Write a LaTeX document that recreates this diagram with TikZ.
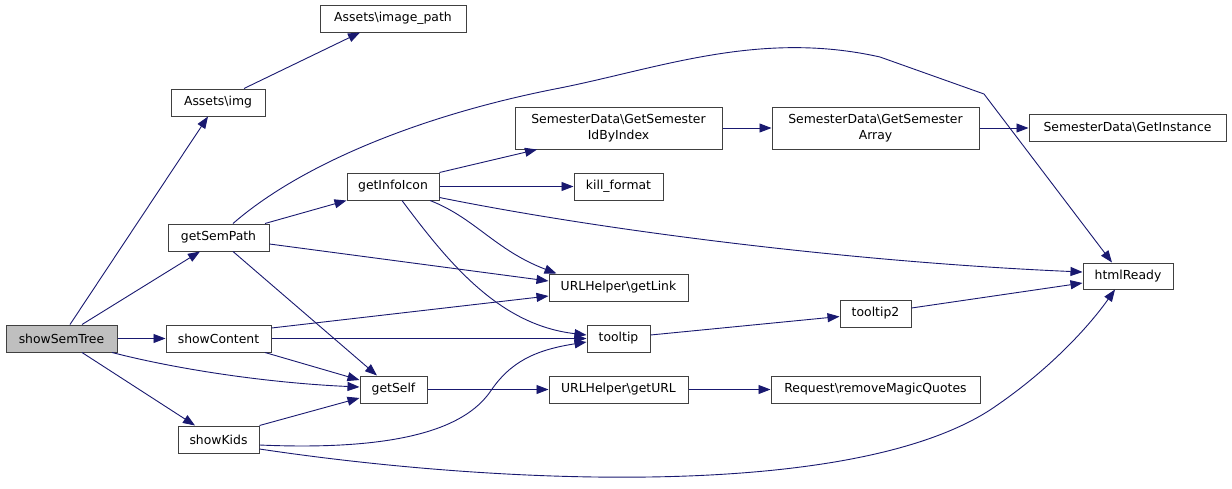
\documentclass[tikz,border=0pt]{standalone}
\usepackage{fontspec}
\setmainfont{DejaVu Sans}
\usetikzlibrary{arrows.meta,calc}
\definecolor{edgeblue}{RGB}{25,25,112}
\definecolor{rootgray}{RGB}{191,191,191}
\definecolor{boxline}{RGB}{64,64,64}
\begin{document}
\begin{tikzpicture}[x=1pt,y=-1pt,
  fn/.style={draw=boxline, line width=1pt, fill=white, inner sep=0pt, align=center,
    minimum height=27pt, font=\fontsize{12.4}{16}\selectfont},
  edge/.style={draw=edgeblue, line width=0.9pt, -{Triangle[length=12pt,width=9pt]}}]
\useasboundingbox[fill=white] (0,0) rectangle (1232,488);

% nodes
\node[fn, minimum width=111pt, fill=rootgray] (semtree) at (61.5,338.5) {showSemTree};
\node[fn, minimum width=94pt]  (img)       at (218,102.5)  {Assets\textbackslash img};
\node[fn, minimum width=146pt] (imgpath)   at (393,18.5)   {Assets\textbackslash image\_path};
\node[fn, minimum width=101pt] (sempath)   at (218.5,237.5) {getSemPath};
\node[fn, minimum width=105pt] (content)   at (218.5,338.5) {showContent};
\node[fn, minimum width=81pt]  (kids)      at (218.5,439.5) {showKids};
\node[fn, minimum width=92pt]  (infoicon)  at (393,186.5)  {getInfoIcon};
\node[fn, minimum width=67pt]  (getself)   at (393.5,389.5) {getSelf};
\node[fn, minimum width=207pt, minimum height=42pt] (idbyindex) at (618.5,128)
  {SemesterData\textbackslash GetSemester\\IdByIndex};
\node[fn, minimum width=207pt, minimum height=42pt] (semarray) at (875.5,128)
  {SemesterData\textbackslash GetSemester\\Array};
\node[fn, minimum width=197pt] (instance)  at (1127.5,127.5) {SemesterData\textbackslash GetInstance};
\node[fn, minimum width=89pt]  (kill)      at (618.5,186.5) {kill\_format};
\node[fn, minimum width=139pt] (getlink)   at (618.5,287.5) {URLHelper\textbackslash getLink};
\node[fn, minimum width=63pt]  (tooltip)   at (618.5,338.5) {tooltip};
\node[fn, minimum width=71pt]  (tooltip2)  at (875.5,313.5) {tooltip2};
\node[fn, minimum width=139pt] (geturl)    at (618.5,389.5) {URLHelper\textbackslash getURL};
\node[fn, minimum width=209pt] (magic)     at (875.5,389.5) {Request\textbackslash removeMagicQuotes};
\node[fn, minimum width=90pt, minimum height=26pt] (htmlready) at (1128,276) {htmlReady};

% edges
\draw[edge] ($(semtree.north)+(8.5,0)$) -- ($(img.south)+(-10,0)$);
\draw[edge] ($(img.north)+(26,0)$) -- ($(imgpath.south)+(-33,0)$);
\draw[edge] ($(semtree.north)+(20.5,0)$) -- ($(sempath.south)+(-18.5,0)$);
\draw[edge] (semtree.east) -- (content.west);
\draw[edge] ($(semtree.south)+(50.5,0)$) .. controls (180,370) and (270,383) .. ($(getself.west)+(0,-2.5)$);
\draw[edge] ($(semtree.south)+(20.5,0)$) -- ($(kids.north)+(-23.5,0)$);

\draw[edge] ($(sempath.north)+(14.5,0)$) .. controls (300,165) and (420,115) .. (560,88)
  .. controls (660,68) and (760,30) .. (880,57) -- (984,94) -- ($(htmlready.north)+(-16,0)$);
\draw[edge] ($(sempath.north)+(46.5,0)$) -- (infoicon.south west);
\draw[edge] ($(sempath.east)+(0,6.5)$) -- ($(getlink.west)+(0,-6.5)$);
\draw[edge] ($(sempath.south)+(14.5,0)$) -- ($(getself.north)+(-16.5,0)$);

\draw[edge] (infoicon.north east) -- ($(idbyindex.south)+(-81.5,0)$);
\draw[edge] (infoicon.east) -- (kill.west);
\draw[edge] ($(infoicon.east)+(0,11)$) .. controls (600,230) and (850,262) .. ($(htmlready.west)+(0,-4)$);
\draw[edge] ($(infoicon.south)+(37,0)$) .. controls (475,218) and (495,250) .. ($(getlink.north west)+(8,0)$);
\draw[edge] ($(infoicon.south)+(9,0)$) .. controls (450,265) and (500,325) .. ($(tooltip.west)+(0,-3.5)$);

\draw[edge] (idbyindex.east) -- (semarray.west);
\draw[edge] (semarray.east) -- (instance.west |- semarray.east);

\draw[edge] ($(content.east)+(0,-10.5)$) -- ($(getlink.west)+(0,8.5)$);
\draw[edge] (content.east) -- (tooltip.west);
\draw[edge] ($(content.south)+(46.5,0)$) -- ($(getself.west)+(0,-9.5)$);

\draw[edge] (kids.north east) -- ($(getself.west)+(0,8.5)$);
\draw[edge] ($(kids.east)+(0,5.5)$) .. controls (420,452) and (470,420) .. (490,392)
  .. controls (510,362) and (535,350) .. ($(tooltip.west)+(0,3.5)$);
\draw[edge] ($(kids.east)+(0,9.5)$) .. controls (500,485) and (850,500) .. (990,410)
  .. controls (1050,370) and (1090,325) .. ($(htmlready.south)+(-13,0)$);

\draw[edge] (getself.east) -- (geturl.west);
\draw[edge] (geturl.east) -- (magic.west);
\draw[edge] ($(tooltip.east)+(0,-3.5)$) -- ($(tooltip2.west)+(0,3)$);
\draw[edge] ($(tooltip2.east)+(0,-5.5)$) -- ($(htmlready.west)+(0,7)$);
\end{tikzpicture}
\end{document}
